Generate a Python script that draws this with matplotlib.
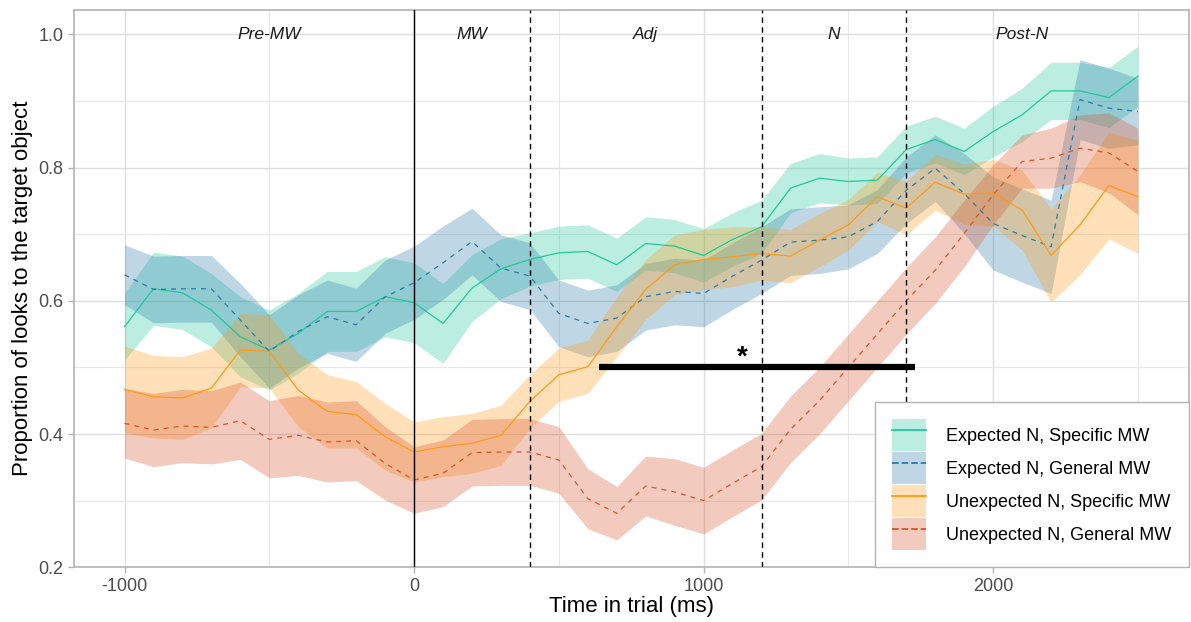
import matplotlib
matplotlib.use("Agg")
import matplotlib.pyplot as plt
from matplotlib.patches import Patch
from matplotlib.lines import Line2D

plt.rcParams['font.family'] = ['Liberation Sans', 'DejaVu Sans']
plt.rcParams['axes.unicode_minus'] = False

time_ms = list(range(-1000, 2600, 100))

# Expected N, Specific MW
exp_spec = [0.561, 0.618, 0.612, 0.586, 0.546, 0.526, 0.551, 0.584, 0.584, 0.606, 0.597,
            0.566, 0.619, 0.648, 0.662, 0.672, 0.674, 0.654, 0.686, 0.682, 0.668, 0.692,
            0.711, 0.769, 0.784, 0.779, 0.781, 0.827, 0.842, 0.824, 0.854, 0.879, 0.915,
            0.915, 0.905, 0.937]
exp_spec_se = [0.05, 0.055, 0.055, 0.055, 0.06, 0.06, 0.06, 0.06, 0.06, 0.06, 0.06,
               0.06, 0.05, 0.045, 0.04, 0.04, 0.04, 0.04, 0.04, 0.04, 0.04, 0.04,
               0.04, 0.037, 0.037, 0.035, 0.035, 0.035, 0.035, 0.035, 0.038, 0.04, 0.043,
               0.043, 0.045, 0.045]

# Expected N, General MW
exp_gen = [0.639, 0.617, 0.618, 0.618, 0.571, 0.524, 0.554, 0.576, 0.564, 0.606, 0.627,
           0.657, 0.689, 0.649, 0.637, 0.581, 0.566, 0.574, 0.606, 0.614, 0.611, 0.637,
           0.661, 0.688, 0.691, 0.696, 0.719, 0.766, 0.799, 0.761, 0.716, 0.698, 0.681,
           0.902, 0.889, 0.884]
exp_gen_se = [0.045, 0.05, 0.05, 0.05, 0.055, 0.055, 0.055, 0.055, 0.055, 0.055, 0.055,
              0.055, 0.05, 0.05, 0.05, 0.05, 0.05, 0.05, 0.05, 0.05, 0.05, 0.05,
              0.05, 0.05, 0.05, 0.048, 0.048, 0.05, 0.05, 0.06, 0.07, 0.07, 0.07,
              0.06, 0.06, 0.05]

# Unexpected N, Specific MW
unexp_spec = [0.467, 0.456, 0.454, 0.469, 0.526, 0.524, 0.466, 0.434, 0.429, 0.396, 0.373,
              0.381, 0.386, 0.398, 0.449, 0.489, 0.501, 0.561, 0.617, 0.654, 0.662, 0.666,
              0.671, 0.667, 0.691, 0.714, 0.756, 0.739, 0.778, 0.760, 0.762, 0.736, 0.668,
              0.714, 0.773, 0.756]
unexp_spec_se = [0.065, 0.062, 0.062, 0.06, 0.055, 0.055, 0.055, 0.055, 0.05, 0.05, 0.045,
                 0.045, 0.045, 0.045, 0.04, 0.04, 0.04, 0.045, 0.045, 0.045, 0.045, 0.045,
                 0.04, 0.04, 0.04, 0.038, 0.037, 0.04, 0.042, 0.045, 0.05, 0.06, 0.07,
                 0.075, 0.08, 0.085]

# Unexpected N, General MW
unexp_gen = [0.416, 0.406, 0.412, 0.410, 0.420, 0.392, 0.398, 0.388, 0.390, 0.356, 0.331,
             0.341, 0.372, 0.373, 0.373, 0.361, 0.303, 0.281, 0.322, 0.313, 0.300, 0.326,
             0.351, 0.407, 0.450, 0.500, 0.550, 0.600, 0.646, 0.701, 0.759, 0.809, 0.814,
             0.829, 0.822, 0.794]
unexp_gen_se = [0.052, 0.055, 0.055, 0.055, 0.058, 0.058, 0.06, 0.06, 0.06, 0.055, 0.05,
                0.05, 0.05, 0.05, 0.05, 0.05, 0.045, 0.04, 0.045, 0.05, 0.05, 0.05,
                0.05, 0.05, 0.05, 0.05, 0.05, 0.05, 0.05, 0.05, 0.045, 0.04, 0.045,
                0.05, 0.06, 0.065]

labels = ["Expected N, Specific MW", "Expected N, General MW",
          "Unexpected N, Specific MW", "Unexpected N, General MW"]
colors = ["#1fc99a", "#2b7bab", "#ff9a14", "#d8542a"]
styles = ["-", "--", "-", "--"]

regions = ["Pre-MW", "MW", "Adj", "N", "Post-N"]
region_mid = [-500, 200, 800, 1450, 2100]
boundaries = [0, 400, 1200, 1700]

fig, ax = plt.subplots(figsize=(11.91, 6.22), dpi=100)
fig.subplots_adjust(left=0.062, right=0.998, top=0.984, bottom=0.088)

series = [(exp_spec, exp_spec_se), (exp_gen, exp_gen_se),
          (unexp_spec, unexp_spec_se), (unexp_gen, unexp_gen_se)]
handles = []
for (m, se), lab, c, ls in zip(series, labels, colors, styles):
    lo = [a - b for a, b in zip(m, se)]
    hi = [a + b for a, b in zip(m, se)]
    ax.fill_between(time_ms, lo, hi, color=c, alpha=0.3, linewidth=0, zorder=2)
    ax.plot(time_ms, m, color=c, linestyle=ls, linewidth=0.9,
            dashes=(4, 4) if ls == "--" else (None, None), zorder=3)
    handles.append((Patch(facecolor=c, alpha=0.3, edgecolor="none"),
                    Line2D([], [], color=c, linestyle=ls, linewidth=1.3)))

# region boundaries
ax.axvline(boundaries[0], color="black", linewidth=1.0, zorder=4)
for b in boundaries[1:]:
    ax.axvline(b, color="black", linewidth=1.0, linestyle=(0, (4, 3)), zorder=4)

for name, xm in zip(regions, region_mid):
    ax.text(xm, 1.0, name, ha="center", va="center", fontsize=12.5, style="italic", color="#1a1a1a")

# significance bar
ax.hlines(0.5, 640, 1730, color="black", linewidth=4.5, zorder=5, capstyle="butt")
ax.text(1135, 0.515, "*", ha="center", va="center", fontsize=20, fontweight="bold")

ax.set_xlim(-1175, 2675)
ax.set_ylim(0.2, 1.0365)
ax.set_xticks([-1000, 0, 1000, 2000])
ax.set_xticks([-500, 500, 1500, 2500], minor=True)
ax.set_yticks([0.2, 0.4, 0.6, 0.8, 1.0])
ax.set_yticks([0.3, 0.5, 0.7, 0.9], minor=True)
ax.set_yticklabels(["0.2", "0.4", "0.6", "0.8", "1.0"])
ax.grid(which="major", color="#dedede", linewidth=1.0, zorder=0)
ax.grid(which="minor", color="#e8e8e8", linewidth=0.8, zorder=0)
ax.set_axisbelow(True)
ax.tick_params(which="major", colors="#b3b3b3", length=4, width=1, labelcolor="#4d4d4d", labelsize=13)
ax.tick_params(which="minor", length=0)
for s in ax.spines.values():
    s.set_color("#b3b3b3")
    s.set_linewidth(1.2)

ax.set_xlabel("Time in trial (ms)", fontsize=16, labelpad=1)
ax.set_ylabel("Proportion of looks to the target object", fontsize=16, labelpad=4)

leg = ax.legend(handles, labels, loc="lower right", fontsize=13, frameon=True,
                fancybox=False, framealpha=1.0, borderaxespad=0, handlelength=1.9,
                handleheight=2.35, labelspacing=0.05, borderpad=0.95, handletextpad=1.1)
leg.get_frame().set_edgecolor("#b3b3b3")
leg.get_frame().set_linewidth(1.0)
leg.set_zorder(10)

fig.savefig("out.png", dpi=100)
